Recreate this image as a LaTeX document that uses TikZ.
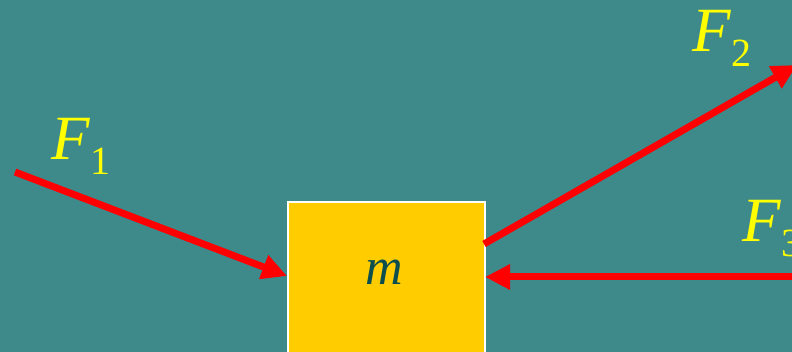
\documentclass[tikz,border=0pt]{standalone}
\usepackage{fontspec}
\setmainfont{Liberation Serif}
\usetikzlibrary{arrows.meta}
\definecolor{bgteal}{RGB}{62,138,138}
\definecolor{boxyellow}{RGB}{255,204,0}
\definecolor{mgreen}{RGB}{12,78,78}
\definecolor{lblyellow}{RGB}{255,255,0}
\newcommand{\forcelabel}[1]{{\fontsize{63}{63}\selectfont\itshape F}\kern1pt\raisebox{-15pt}{\fontsize{40}{40}\selectfont #1}}
\tikzset{
  force/.style={draw=red, line width=7pt, -{Triangle[length=25pt,width=24pt]}},
  flabel/.style={text=lblyellow, anchor=base west, inner sep=0pt},
  massbox/.style={fill=boxyellow, draw=white, line width=2pt, anchor=north west, minimum width=197pt, minimum height=180pt, inner sep=0pt}
}
\begin{document}
\begin{tikzpicture}[x=1pt,y=1pt]
\fill[bgteal] (0,0) rectangle (792,352);
\useasboundingbox (0,0) rectangle (792,352);
\clip (0,0) rectangle (792,352);
\node[massbox] (box) at (287,151) {};
\node[text=mgreen, anchor=base, inner sep=0pt, font=\fontsize{52}{52}\selectfont\itshape] (m) at (384,67) {m};
\coordinate (f1start) at (15,180);
\coordinate (f1end) at (287,76);
\coordinate (f2start) at (484,108);
\coordinate (f2end) at (797,287);
\coordinate (f3start) at (800,75);
\coordinate (f3end) at (485,75);
\draw[force] (f1start) -- (f1end);
\draw[force] (f2start) -- (f2end);
\draw[force] (f3start) -- (f3end);
\node[flabel] (F1) at (51,192) {\forcelabel{1}};
\node[flabel] (F2) at (692,300) {\forcelabel{2}};
\node[flabel] (F3) at (742,110) {\forcelabel{3}};
\end{tikzpicture}
\end{document}
